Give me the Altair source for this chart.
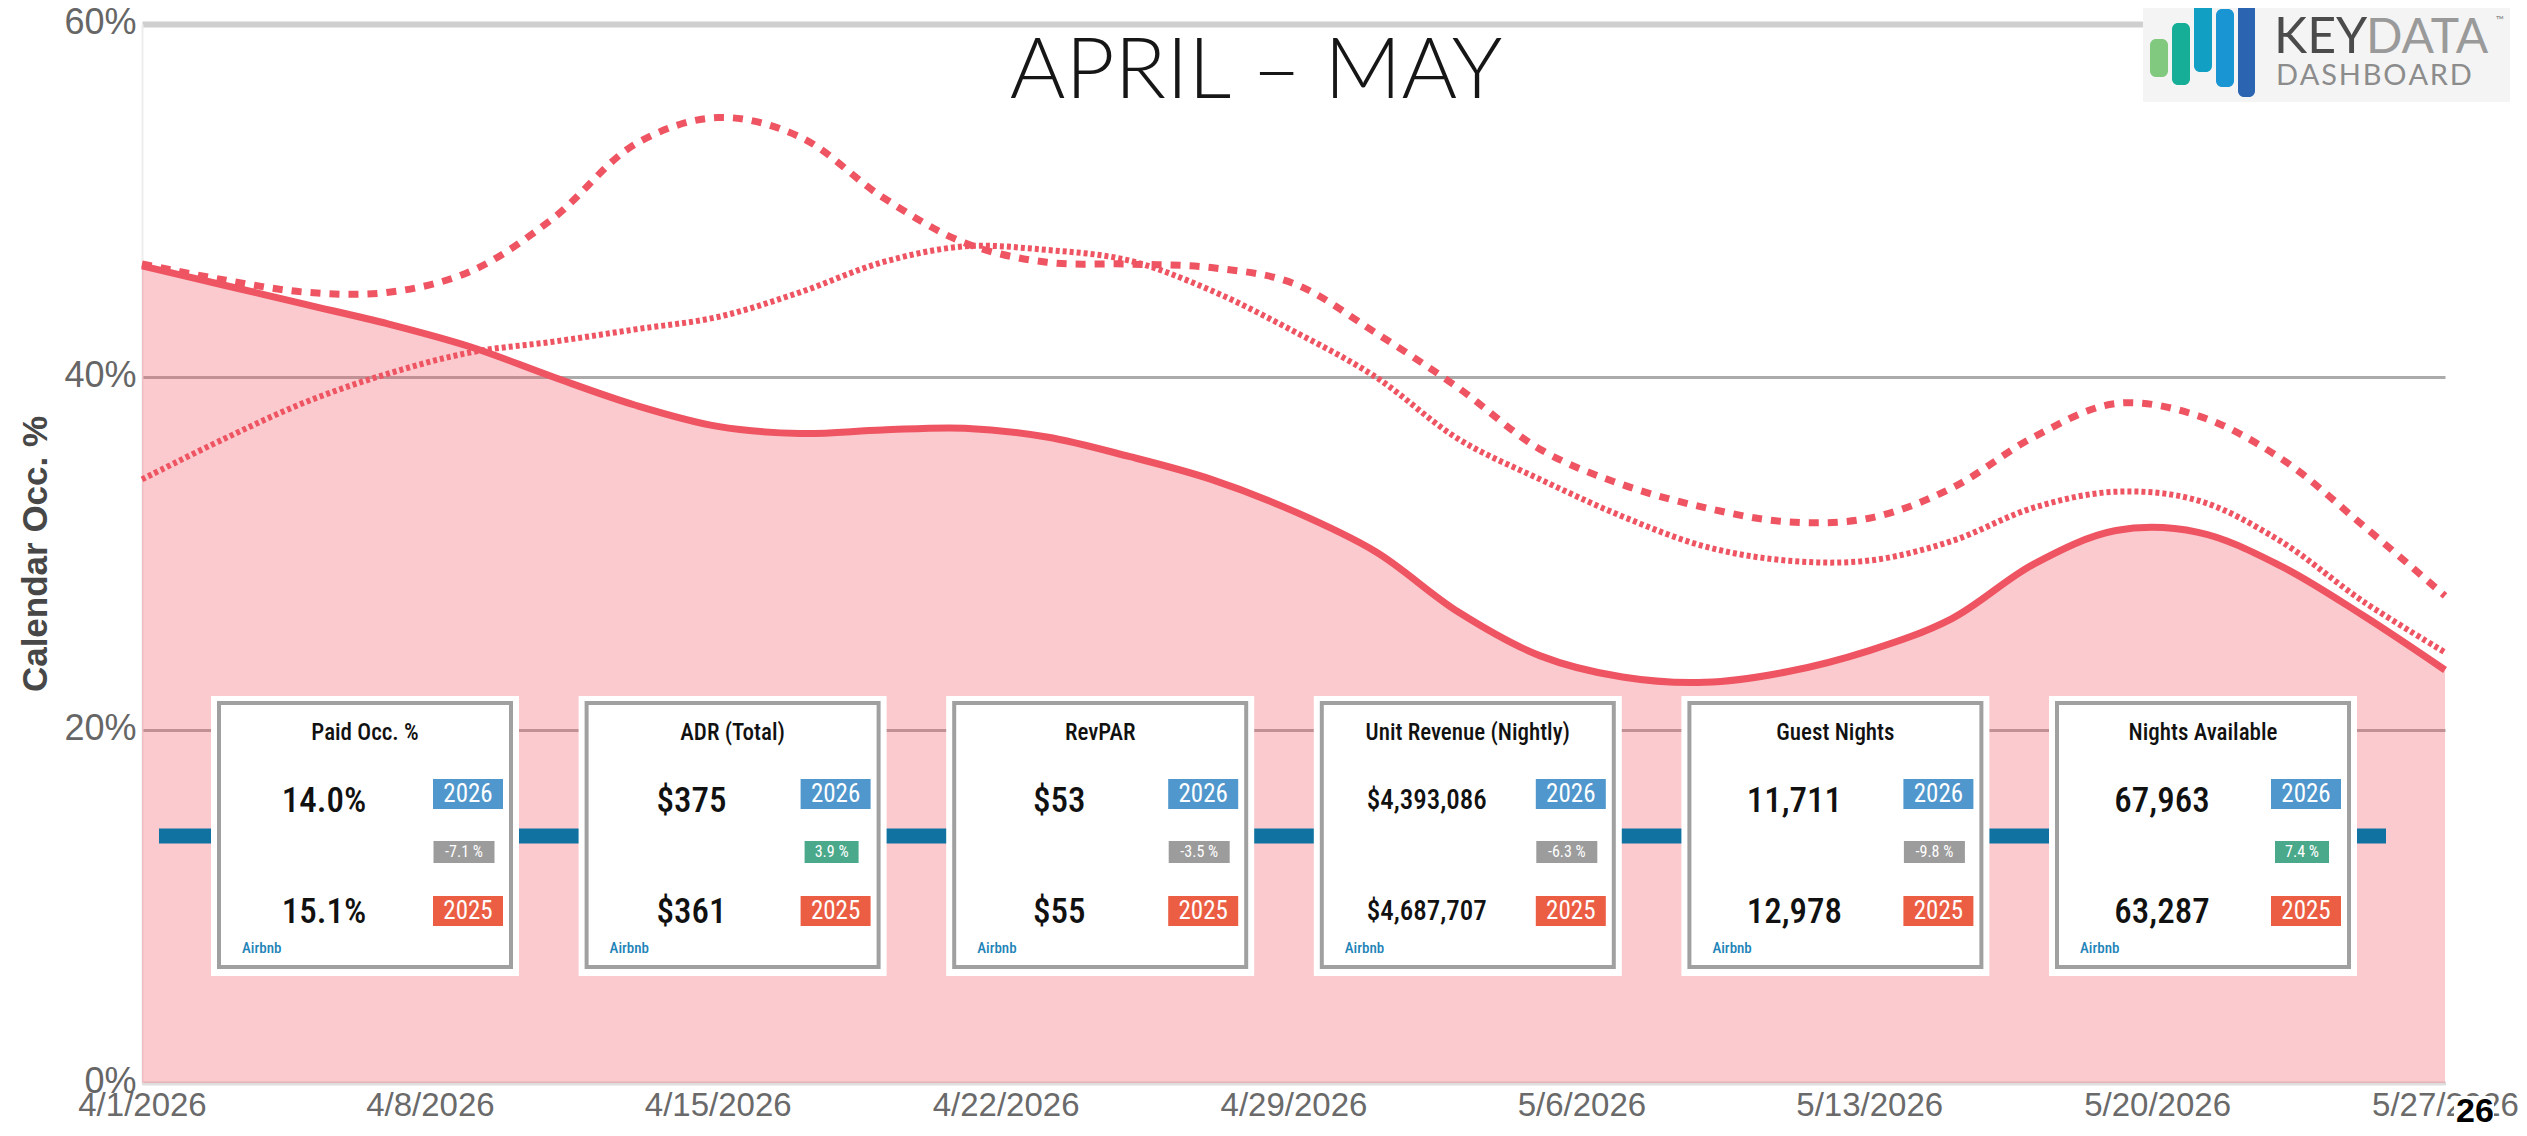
import altair as alt
import pandas as pd

# ---------------- data ----------------
dates = ["2026-04-01", "2026-04-03", "2026-04-05", "2026-04-07", "2026-04-09", "2026-04-11",
         "2026-04-13", "2026-04-15", "2026-04-17", "2026-04-19", "2026-04-21", "2026-04-23",
         "2026-04-25", "2026-04-27", "2026-04-29", "2026-05-01", "2026-05-03", "2026-05-05",
         "2026-05-07", "2026-05-09", "2026-05-11", "2026-05-13", "2026-05-15", "2026-05-17",
         "2026-05-19", "2026-05-21", "2026-05-23", "2026-05-25", "2026-05-27"]

# Calendar Occ. % (solid line + shaded area)
occ_solid = [46.3, 45.2, 44.1, 43.0, 41.7, 40.0, 38.4, 37.2, 36.8, 37.0, 37.1, 36.6, 35.5, 34.2,
             32.4, 30.1, 26.7, 24.2, 23.0, 22.7, 23.3, 24.5, 26.3, 29.4, 31.3, 31.2, 29.3, 26.5, 23.4]
# dashed comparison line
occ_dashed = [46.4, 45.5, 44.8, 44.8, 46.0, 49.0, 53.2, 54.7, 53.6, 50.2, 47.6, 46.5, 46.4, 46.2,
              45.3, 42.5, 39.4, 35.9, 33.9, 32.6, 31.8, 32.0, 33.7, 36.6, 38.5, 37.8, 35.4, 31.6, 27.6]
# dotted comparison line
occ_dotted = [34.2, 36.5, 38.6, 40.2, 41.4, 42.0, 42.7, 43.4, 44.8, 46.5, 47.4, 47.2, 46.6, 44.9,
              42.6, 40.0, 36.5, 34.2, 32.1, 30.4, 29.6, 29.6, 30.7, 32.6, 33.5, 33.0, 30.7, 27.3, 24.4]

week_ticks = ["2026-04-01", "2026-04-08", "2026-04-15", "2026-04-22", "2026-04-29",
              "2026-05-06", "2026-05-13", "2026-05-20", "2026-05-27"]
y_ticks = [0, 20, 40, 60]

card_titles = ["Paid Occ. %", "ADR (Total)", "RevPAR", "Unit Revenue (Nightly)",
               "Guest Nights", "Nights Available"]
card_2026 = ["14.0%", "$375", "$53", "$4,393,086", "11,711", "67,963"]
card_2025 = ["15.1%", "$361", "$55", "$4,687,707", "12,978", "63,287"]
card_change = ["-7.1 %", "3.9 %", "-3.5 %", "-6.3 %", "-9.8 %", "7.4 %"]

# ---------------- styling ----------------
RED = "#ee5461"
BLUE_RULE = "#0f72a0"
W, H = 2303, 1059
INTERP = "catmull-rom"


def dt(s):
    y, m, d = s.split("-")
    return alt.DateTime(year=int(y), month=int(m), date=int(d))


line_df = pd.DataFrame({
    "date": pd.to_datetime(dates),
    "solid": occ_solid,
    "dashed": occ_dashed,
    "dotted": occ_dotted,
})

x_axis = alt.Axis(
    values=[dt(s) for s in week_ticks], format="%-m/%-d/%Y", title=None,
    grid=False, ticks=False, domain=True, domainColor="#dedede", domainWidth=4,
    labelFont="Liberation Sans", labelFontSize=33, labelColor="#6a6a6a",
    labelPadding=6, labelFlush=False, labelOverlap=False,
)
y_axis = alt.Axis(
    values=y_ticks, labelExpr="datum.value + '%'",
    grid=True,
    gridColor={"condition": {"test": "datum.value >= 59", "value": "#cfcfcf"}, "value": "#ababab"},
    gridWidth={"condition": {"test": "datum.value >= 59", "value": 6}, "value": 3},
    ticks=False, domain=True, domainColor="#eeeeee", domainWidth=2,
    labelFont="Liberation Sans", labelFontSize=36, labelColor="#666666", labelPadding=6,
    labelOffset=-2,
    title="Calendar Occ. %", titleFont="Liberation Sans", titleFontSize=35,
    titleFontWeight="bold", titleColor="#474747", titlePadding=10,
)

x_main = alt.X("date:T", scale=alt.Scale(domain=[dt(week_ticks[0]), dt(week_ticks[-1])]), axis=x_axis)
y_main = alt.Y("solid:Q", scale=alt.Scale(domain=[0, 60], nice=False), axis=y_axis)

area = alt.Chart(line_df).mark_area(color=RED, opacity=0.31, interpolate=INTERP).encode(
    x=x_main, y=y_main)
line_dotted = alt.Chart(line_df).mark_line(
    color=RED, strokeWidth=6, strokeDash=[4, 3], interpolate=INTERP).encode(
    x="date:T", y="dotted:Q")
line_dashed = alt.Chart(line_df).mark_line(
    color=RED, strokeWidth=7, strokeDash=[10, 9], interpolate=INTERP).encode(
    x="date:T", y="dashed:Q")
line_solid = alt.Chart(line_df).mark_line(
    color=RED, strokeWidth=7, interpolate=INTERP).encode(
    x="date:T", y="solid:Q")

# blue reference line at the Paid Occ. 2026 value
rule_df = pd.DataFrame({"v": [float(card_2026[0].rstrip("%"))]})
blue_rule = alt.Chart(rule_df).mark_rule(color=BLUE_RULE, strokeWidth=15).encode(
    x=alt.value(17), x2=alt.value(2244), y="v:Q")

# ---------------- KPI cards ----------------
cards = pd.DataFrame({"title": card_titles, "v26": card_2026, "v25": card_2025, "chg": card_change})
L = 69 + cards.index * 367.6
T = 672
cards["ox1"], cards["ox2"], cards["oy1"], cards["oy2"] = L, L + 308, T, T + 280
cards["bx1"], cards["bx2"], cards["by1"], cards["by2"] = L + 8, L + 300, T + 7, T + 271
cards["tx"], cards["ty"] = L + 154, T + 37
cards["vx"], cards["v26y"], cards["v25y"] = L + 113, T + 105, T + 216
cards["vsize"] = [27 if len(v) > 7 else 35 for v in card_2026]
cards["kx1"], cards["kx2"], cards["kcx"] = L + 222, L + 292, L + 257
cards["k26y1"], cards["k26y2"], cards["k26cy"] = T + 83, T + 113, T + 98
cards["k25y1"], cards["k25y2"], cards["k25cy"] = T + 200, T + 230, T + 215
cards["y26"], cards["y25"] = "2026", "2025"
chg_w = pd.Series([7 * len(c) + 19 for c in card_change])
cards["cx1"], cards["cx2"], cards["ccx"] = L + 253 - chg_w / 2, L + 253 + chg_w / 2, L + 253
cards["cy1"], cards["cy2"], cards["ccy"] = T + 145, T + 167, T + 156
cards["ccol"] = ["#9c9c9c" if c.startswith("-") else "#4aa98a" for c in card_change]
cards["ax"], cards["ay"] = L + 31, T + 252
cards["src"] = "Airbnb"


def px(f):
    return alt.X(f + ":Q", scale=None, axis=None)


def py(f):
    return alt.Y(f + ":Q", scale=None, axis=None)


FONT = "Roboto Condensed, Roboto"
cbase = alt.Chart(cards)
card_outer = cbase.mark_rect(color="white").encode(
    x=px("ox1"), x2="ox2:Q", y=py("oy1"), y2="oy2:Q")
card_border = cbase.mark_rect(fill="white", stroke="#a0a0a0", strokeWidth=4).encode(
    x=px("bx1"), x2="bx2:Q", y=py("by1"), y2="by2:Q")
card_title = cbase.mark_text(font=FONT, fontSize=23, fontWeight=500,
                             color="#111111", align="center", baseline="middle").encode(
    x=px("tx"), y=py("ty"), text="title:N")
val26 = cbase.mark_text(font=FONT, fontWeight=500, color="#111111",
                        align="center", baseline="middle").encode(
    x=px("vx"), y=py("v26y"), text="v26:N", size=alt.Size("vsize:Q", scale=None, legend=None))
val25 = cbase.mark_text(font=FONT, fontWeight=500, color="#111111",
                        align="center", baseline="middle").encode(
    x=px("vx"), y=py("v25y"), text="v25:N", size=alt.Size("vsize:Q", scale=None, legend=None))
badge26 = cbase.mark_rect(color="#4f97cc").encode(
    x=px("kx1"), x2="kx2:Q", y=py("k26y1"), y2="k26y2:Q")
badge25 = cbase.mark_rect(color="#ec5e44").encode(
    x=px("kx1"), x2="kx2:Q", y=py("k25y1"), y2="k25y2:Q")
badge26_t = cbase.mark_text(font=FONT, fontSize=25, color="white",
                            align="center", baseline="middle").encode(
    x=px("kcx"), y=py("k26cy"), text="y26:N")
badge25_t = cbase.mark_text(font=FONT, fontSize=25, color="white",
                            align="center", baseline="middle").encode(
    x=px("kcx"), y=py("k25cy"), text="y25:N")
chg_box = cbase.mark_rect().encode(
    x=px("cx1"), x2="cx2:Q", y=py("cy1"), y2="cy2:Q",
    color=alt.Color("ccol:N", scale=None, legend=None))
chg_t = cbase.mark_text(font=FONT, fontSize=16, color="white",
                        align="center", baseline="middle").encode(
    x=px("ccx"), y=py("ccy"), text="chg:N")
src_t = cbase.mark_text(font=FONT, fontSize=15, fontWeight=500,
                        color="#1f84b8", align="left", baseline="middle").encode(
    x=px("ax"), y=py("ay"), text="src:N")

# ---------------- title, logo, slide number ----------------
one = pd.DataFrame({"k": [0]})


def box(x1, x2, y1, y2, color, **kw):
    return alt.Chart(one).mark_rect(color=color, **kw).encode(
        x=alt.value(x1), x2=alt.value(x2), y=alt.value(y1), y2=alt.value(y2))


def label(txt, x, y, **kw):
    return alt.Chart(one).mark_text(text=txt, **kw).encode(x=alt.value(x), y=alt.value(y))


title = label("APRIL \u2013 MAY", 1114, 48, font="Lato", fontSize=85, fontWeight=300,
              color="#161616", align="center", baseline="middle")

logo = [
    box(2001, 2368, -24, 78, "#f4f4f4"),
    box(2008, 2026, 15, 53, "#80c97e", cornerRadius=6),
    box(2030, 2048, -1, 61, "#17ae98", cornerRadius=6),
    box(2052, 2070, -21, 48, "#11a0c3", cornerRadius=6),
    box(2074, 2092, -15, 63, "#1a95d3", cornerRadius=6),
    box(2096, 2113, -24, 73, "#2b64b0", cornerRadius=6),
    label("KEY", 2132, 29, font="Lato", fontSize=50, color="#4b4b4b", align="left",
          baseline="alphabetic"),
    label("DATA", 2224, 29, font="Lato", fontSize=48, color="#9a9a9a", align="left",
          baseline="alphabetic"),
    label("\u2122", 2354, -3, font="Lato", fontSize=11, color="#8a8a8a", align="left",
          baseline="middle"),
    label("\u200a".join("DASHBOARD"), 2134, 61, font="Lato", fontSize=29, color="#8c8c8c",
          align="left", baseline="alphabetic"),
]

slide_no = [
    box(2312, 2352, 1072, 1104, "white"),
    label("26", 2333, 1088, font="Liberation Sans", fontSize=34, fontWeight="bold",
          color="#000000", align="center", baseline="middle"),
]

chart = alt.layer(
    area, line_dotted, line_dashed, line_solid, blue_rule,
    card_outer, card_border, card_title, val26, val25,
    badge26, badge25, badge26_t, badge25_t, chg_box, chg_t, src_t,
    title, *logo, *slide_no,
).properties(
    width=W, height=H,
    autosize=alt.AutoSizeParams(type="none"),
    padding={"left": 134, "top": 16, "right": 74, "bottom": 40},
    background="white",
).configure_view(stroke=None)

chart.save("out.html", embed_options={"renderer": "svg", "actions": False})
